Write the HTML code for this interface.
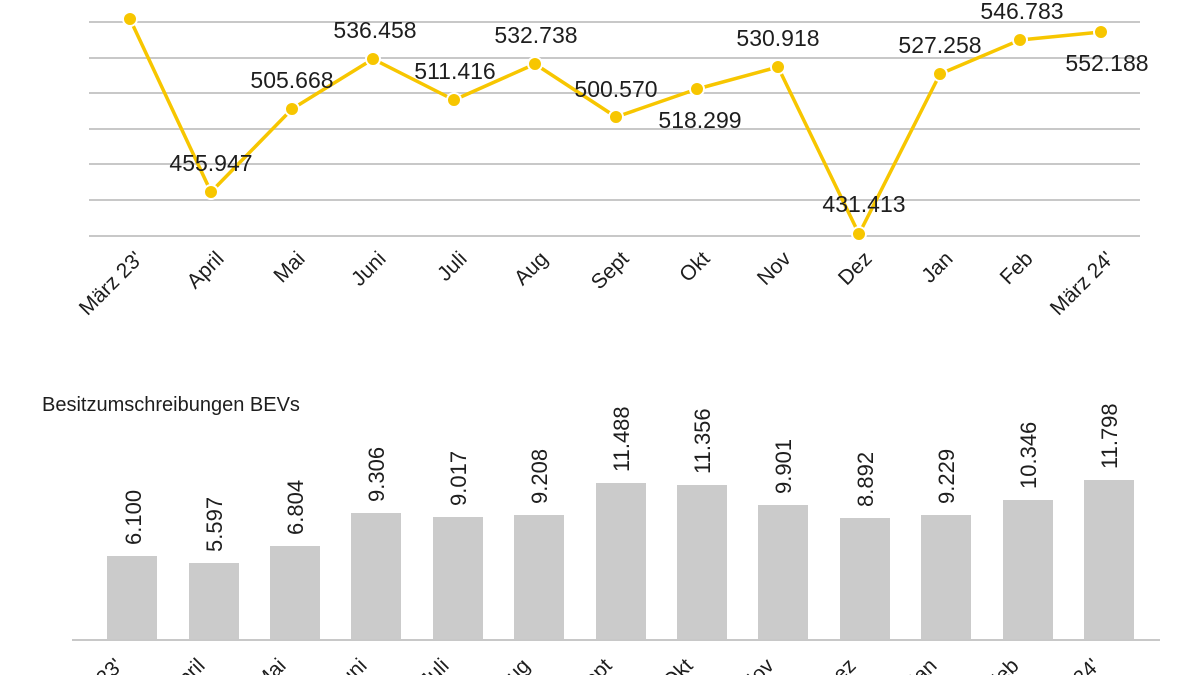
<!DOCTYPE html>
<html><head><meta charset="utf-8"><style>
html,body{margin:0;padding:0;background:#fff;overflow:hidden;width:1200px;height:675px;}
svg{display:block;font-family:"Liberation Sans",sans-serif;}
</style></head><body>
<svg width="1200" height="675" viewBox="0 0 1200 675">
<g stroke="#c8c8c8" stroke-width="2">
<line x1="89" x2="1140" y1="22" y2="22"/><line x1="89" x2="1140" y1="58" y2="58"/>
<line x1="89" x2="1140" y1="93" y2="93"/><line x1="89" x2="1140" y1="129" y2="129"/>
<line x1="89" x2="1140" y1="164" y2="164"/><line x1="89" x2="1140" y1="200" y2="200"/>
<line x1="89" x2="1140" y1="236" y2="236"/>
</g>
<polyline fill="none" stroke="#f7c600" stroke-width="3.5" stroke-linejoin="round"
points="130,19 211,192 292,109 373,59 454,100 535,64 616,117 697,89 778,67 859,234 940,74 1020,40 1101,32"/>
<g fill="#f7c600" stroke="#fff" stroke-width="2">
<circle cx="130" cy="19" r="7"/><circle cx="211" cy="192" r="7"/><circle cx="292" cy="109" r="7"/>
<circle cx="373" cy="59" r="7"/><circle cx="454" cy="100" r="7"/><circle cx="535" cy="64" r="7"/>
<circle cx="616" cy="117" r="7"/><circle cx="697" cy="89" r="7"/><circle cx="778" cy="67" r="7"/>
<circle cx="859" cy="234" r="7"/><circle cx="940" cy="74" r="7"/><circle cx="1020" cy="40" r="7"/>
<circle cx="1101" cy="32" r="7"/>
</g>
<g font-size="23" fill="#1e1e1e" text-anchor="middle">
<text x="211" y="171">455.947</text><text x="292" y="88">505.668</text>
<text x="375" y="38">536.458</text><text x="455" y="79">511.416</text>
<text x="536" y="43">532.738</text><text x="616" y="97">500.570</text>
<text x="700" y="128">518.299</text><text x="778" y="46">530.918</text>
<text x="864" y="212">431.413</text><text x="940" y="53">527.258</text>
<text x="1022" y="19">546.783</text><text x="1107" y="71">552.188</text>
</g>
<g font-size="21" fill="#1e1e1e" text-anchor="end">
<text transform="translate(144,260) rotate(-45)">März 23'</text>
<text transform="translate(225,260) rotate(-45)">April</text>
<text transform="translate(306,260) rotate(-45)">Mai</text>
<text transform="translate(387,260) rotate(-45)">Juni</text>
<text transform="translate(468,260) rotate(-45)">Juli</text>
<text transform="translate(549,260) rotate(-45)">Aug</text>
<text transform="translate(630,260) rotate(-45)">Sept</text>
<text transform="translate(711,260) rotate(-45)">Okt</text>
<text transform="translate(792,260) rotate(-45)">Nov</text>
<text transform="translate(873,260) rotate(-45)">Dez</text>
<text transform="translate(954,260) rotate(-45)">Jan</text>
<text transform="translate(1034,260) rotate(-45)">Feb</text>
<text transform="translate(1115,260) rotate(-45)">März 24'</text>
</g>
<text x="42" y="411" font-size="20" fill="#1e1e1e">Besitzumschreibungen BEVs</text>
<g fill="#cbcbcb">
<rect x="107" y="556" width="50" height="84"/><rect x="189" y="563" width="50" height="77"/>
<rect x="270" y="546" width="50" height="94"/><rect x="351" y="513" width="50" height="127"/>
<rect x="433" y="517" width="50" height="123"/><rect x="514" y="515" width="50" height="125"/>
<rect x="596" y="483" width="50" height="157"/><rect x="677" y="485" width="50" height="155"/>
<rect x="758" y="505" width="50" height="135"/><rect x="840" y="518" width="50" height="122"/>
<rect x="921" y="515" width="50" height="125"/><rect x="1003" y="500" width="50" height="140"/>
<rect x="1084" y="480" width="50" height="160"/>
</g>
<line x1="72" x2="1160" y1="640" y2="640" stroke="#c8c8c8" stroke-width="2"/>
<g font-size="22" fill="#1e1e1e">
<text transform="translate(141,545) rotate(-90)">6.100</text>
<text transform="translate(222,552) rotate(-90)">5.597</text>
<text transform="translate(303,535) rotate(-90)">6.804</text>
<text transform="translate(384,502) rotate(-90)">9.306</text>
<text transform="translate(466,506) rotate(-90)">9.017</text>
<text transform="translate(547,504) rotate(-90)">9.208</text>
<text transform="translate(629,472) rotate(-90)">11.488</text>
<text transform="translate(710,474) rotate(-90)">11.356</text>
<text transform="translate(791,494) rotate(-90)">9.901</text>
<text transform="translate(873,507) rotate(-90)">8.892</text>
<text transform="translate(954,504) rotate(-90)">9.229</text>
<text transform="translate(1036,489) rotate(-90)">10.346</text>
<text transform="translate(1117,469) rotate(-90)">11.798</text>
</g>
<g font-size="21" fill="#1e1e1e" text-anchor="end">
<text transform="translate(124,667) rotate(-45)">März 23'</text>
<text transform="translate(206,667) rotate(-45)">April</text>
<text transform="translate(287,667) rotate(-45)">Mai</text>
<text transform="translate(368,667) rotate(-45)">Juni</text>
<text transform="translate(450,667) rotate(-45)">Juli</text>
<text transform="translate(531,667) rotate(-45)">Aug</text>
<text transform="translate(613,667) rotate(-45)">Sept</text>
<text transform="translate(694,667) rotate(-45)">Okt</text>
<text transform="translate(775,667) rotate(-45)">Nov</text>
<text transform="translate(857,667) rotate(-45)">Dez</text>
<text transform="translate(938,667) rotate(-45)">Jan</text>
<text transform="translate(1020,667) rotate(-45)">Feb</text>
<text transform="translate(1101,667) rotate(-45)">März 24'</text>
</g>
</svg>
</body></html>
